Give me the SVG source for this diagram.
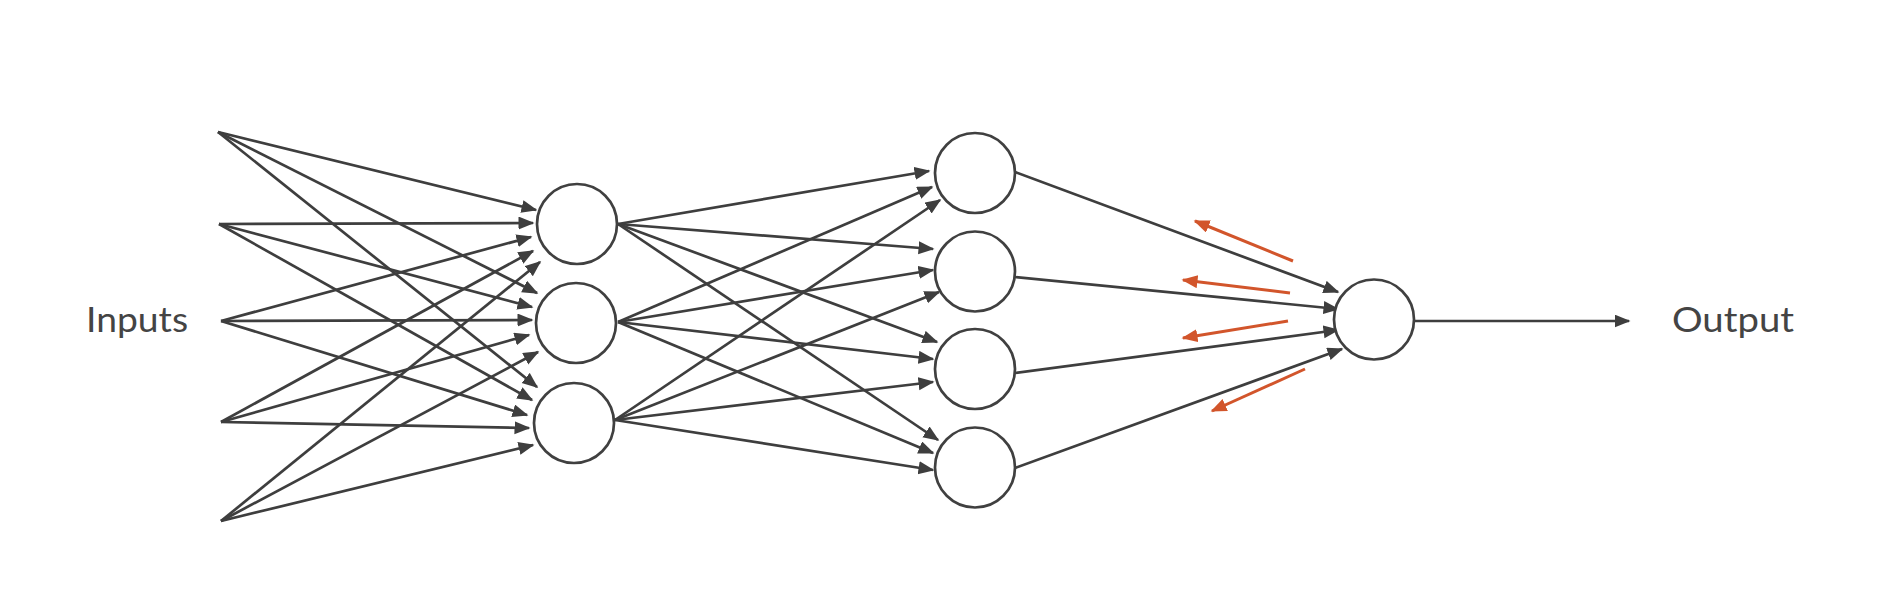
<svg xmlns="http://www.w3.org/2000/svg" width="1886" height="614" viewBox="0 0 1886 614">
  <style>
    .edge { stroke: #3e3e3e; stroke-width: 2.7; fill: none; marker-end: url(#ah); }
    .back { stroke: #d2552b; stroke-width: 3; fill: none; marker-end: url(#ahr); }
    .node { fill: #ffffff; stroke: #404040; stroke-width: 2.7; }
    .lbl { font-family: Lato, "Noto Sans", "Liberation Sans", sans-serif; font-size: 35px; fill: #444444; }
  </style>
  <defs>
    <marker id="ah" markerUnits="userSpaceOnUse" markerWidth="18" markerHeight="16" refX="14.5" refY="6.5" orient="auto">
      <path d="M0,0 L16,6.5 L0,13 z" fill="#3e3e3e"/>
    </marker>
    <marker id="ahr" markerUnits="userSpaceOnUse" markerWidth="18" markerHeight="16" refX="14.5" refY="6.5" orient="auto">
      <path d="M0,0 L16,6.5 L0,13 z" fill="#d2552b"/>
    </marker>
  </defs>
  <rect x="0" y="0" width="1886" height="614" fill="#ffffff"/>

  <g id="connectors">
    <!-- inputs to hidden layer 1 -->
    <line class="edge" x1="218" y1="132" x2="536" y2="210"/>
    <line class="edge" x1="218" y1="132" x2="537" y2="293"/>
    <line class="edge" x1="218" y1="132" x2="537" y2="387"/>
    <line class="edge" x1="219" y1="224" x2="533" y2="223"/>
    <line class="edge" x1="219" y1="224" x2="532" y2="307"/>
    <line class="edge" x1="219" y1="224" x2="532" y2="400"/>
    <line class="edge" x1="221" y1="321" x2="531" y2="237"/>
    <line class="edge" x1="221" y1="321" x2="532" y2="320"/>
    <line class="edge" x1="221" y1="321" x2="527" y2="415"/>
    <line class="edge" x1="221" y1="422" x2="533" y2="251"/>
    <line class="edge" x1="221" y1="422" x2="529" y2="335"/>
    <line class="edge" x1="221" y1="422" x2="529" y2="428"/>
    <line class="edge" x1="221" y1="521" x2="540" y2="262"/>
    <line class="edge" x1="221" y1="521" x2="538" y2="352"/>
    <line class="edge" x1="221" y1="521" x2="533" y2="445"/>
    <!-- hidden 1 to hidden 2 -->
    <line class="edge" x1="618" y1="224" x2="929" y2="171"/>
    <line class="edge" x1="618" y1="224" x2="933" y2="249"/>
    <line class="edge" x1="618" y1="224" x2="937" y2="342"/>
    <line class="edge" x1="618" y1="224" x2="938" y2="440"/>
    <line class="edge" x1="618" y1="322" x2="932" y2="187"/>
    <line class="edge" x1="618" y1="322" x2="933" y2="270"/>
    <line class="edge" x1="618" y1="322" x2="933" y2="359"/>
    <line class="edge" x1="618" y1="322" x2="933" y2="453"/>
    <line class="edge" x1="615" y1="420" x2="940" y2="200"/>
    <line class="edge" x1="615" y1="420" x2="939" y2="292"/>
    <line class="edge" x1="615" y1="420" x2="933" y2="382"/>
    <line class="edge" x1="615" y1="420" x2="933" y2="470"/>
    <!-- hidden 2 to output -->
    <line class="edge" x1="1015" y1="172" x2="1338" y2="292"/>
    <line class="edge" x1="1015" y1="277" x2="1338" y2="309"/>
    <line class="edge" x1="1015" y1="373" x2="1338" y2="330"/>
    <line class="edge" x1="1015" y1="468" x2="1342" y2="349"/>
    <!-- output -->
    <line class="edge" x1="1414" y1="321" x2="1629" y2="321"/>
    <!-- backward (orange) arrows -->
    <line class="back" x1="1293" y1="261" x2="1195" y2="221"/>
    <line class="back" x1="1290" y1="293" x2="1183" y2="280"/>
    <line class="back" x1="1288" y1="321" x2="1183" y2="338"/>
    <line class="back" x1="1305" y1="369" x2="1212" y2="411"/>
  </g>

  <g id="h1-1"><circle class="node" cx="577" cy="224" r="40"/></g>
  <g id="h1-2"><circle class="node" cx="576" cy="323" r="40"/></g>
  <g id="h1-3"><circle class="node" cx="574" cy="423" r="40"/></g>

  <g id="h2-1"><circle class="node" cx="975" cy="173" r="40"/></g>
  <g id="h2-2"><circle class="node" cx="975" cy="271.5" r="40"/></g>
  <g id="h2-3"><circle class="node" cx="975" cy="369" r="40"/></g>
  <g id="h2-4"><circle class="node" cx="975" cy="467.5" r="40"/></g>

  <g id="out"><circle class="node" cx="1374" cy="319.5" r="40"/></g>

  <g id="label-inputs"><text class="lbl" x="86" y="332" textLength="102" lengthAdjust="spacingAndGlyphs">Inputs</text></g>
  <g id="label-output"><text class="lbl" x="1672" y="332" textLength="122" lengthAdjust="spacingAndGlyphs">Output</text></g>
</svg>
